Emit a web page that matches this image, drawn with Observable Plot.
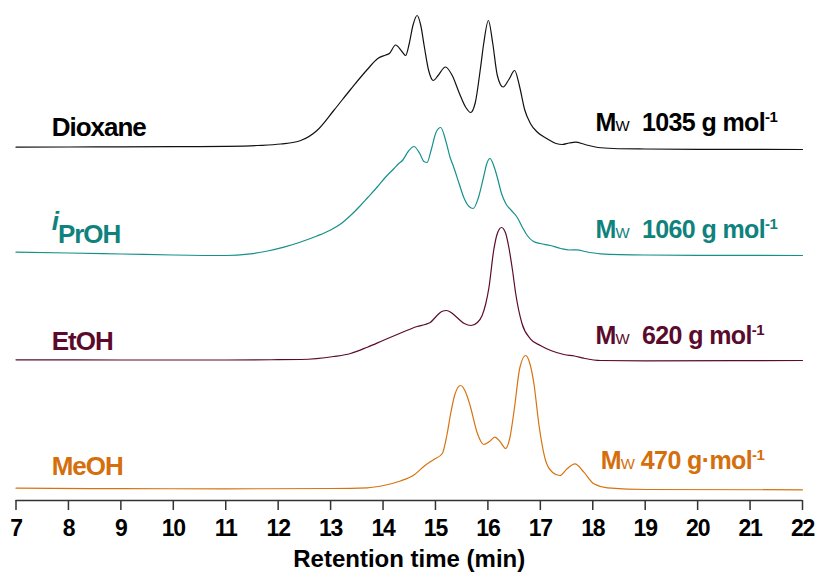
<!DOCTYPE html>
<html>
<head>
<meta charset="utf-8">
<script src="https://cdn.jsdelivr.net/npm/d3@7"></script>
<script src="https://cdn.jsdelivr.net/npm/@observablehq/plot@0.6"></script>
<style>
  html, body { margin: 0; padding: 0; background: #fff; }
  #chart svg { display: block; }
</style>
</head>
<body>
<div id="chart"></div>
<script>
// GPC traces measured in four solvents (retention time in min, detector signal in arbitrary units)
const solvents = ["Dioxane", "iPrOH", "EtOH", "MeOH"];
const molarMass = [1035, 1060, 620, 470];
const xTicks = [7, 8, 9, 10, 11, 12, 13, 14, 15, 16, 17, 18, 19, 20, 21, 22];

const dioxaneTime = [7.0, 8.0, 9.0, 10.0, 11.0, 11.6, 12.05, 12.43, 12.74, 13.06, 13.38, 13.70, 13.90, 14.05, 14.12, 14.24, 14.36, 14.43, 14.50, 14.57, 14.65, 14.72, 14.79, 14.87, 14.96, 15.05, 15.19, 15.32, 15.45, 15.58, 15.67, 15.76, 15.86, 15.92, 16.01, 16.09, 16.18, 16.29, 16.40, 16.51, 16.60, 16.70, 16.81, 16.95, 17.13, 17.30, 17.42, 17.55, 17.67, 17.85, 18.1, 18.4, 19.0, 20.0, 22.0];
const dioxaneSignal = [0.3, 0.5, 0.6, 0.8, 1.2, 2, 3.5, 7, 17, 37, 58, 78, 89, 92.5, 94, 102.5, 96, 92, 104, 122, 132, 122, 100, 77, 67, 72, 80.5, 72, 55, 40, 35, 45, 80, 104, 127, 105, 72, 60.5, 68, 77, 62, 38, 24, 15, 8.7, 4, 3, 4.5, 5.3, 3, 0, -1, -1.5, -1.8, -2];

const iproTime = [7.0, 8.0, 9.0, 10.0, 11.0, 11.47, 11.8, 12.11, 12.43, 12.74, 13.0, 13.19, 13.38, 13.57, 13.70, 13.89, 14.05, 14.21, 14.30, 14.37, 14.48, 14.59, 14.70, 14.78, 14.84, 14.92, 15.01, 15.10, 15.20, 15.28, 15.35, 15.45, 15.54, 15.64, 15.72, 15.82, 15.92, 15.98, 16.04, 16.11, 16.18, 16.26, 16.34, 16.45, 16.56, 16.66, 16.75, 16.87, 17.0, 17.19, 17.39, 17.55, 17.70, 17.85, 18.15, 19.0, 20.0, 22.0];
const iproSignal = [3.3, 2.5, 1.5, 0.5, 0, 1.7, 4.5, 8.3, 13.5, 19.5, 25.5, 31.5, 40, 50, 57.5, 68.5, 78.5, 87, 92, 95, 104, 109, 102, 94, 93, 106, 123, 128, 114, 98, 88, 72, 58, 49, 47, 58, 79, 92, 97, 90, 78, 62, 52, 45, 38, 28, 20, 14, 12, 10, 7, 5.5, 5.7, 4, 1.7, 0.5, 0.2, 0];

const etohTime = [7.0, 9.0, 11.0, 12.0, 12.43, 13.06, 13.38, 13.70, 14.0, 14.27, 14.50, 14.65, 14.80, 14.90, 15.03, 15.12, 15.21, 15.31, 15.41, 15.55, 15.68, 15.80, 15.89, 15.96, 16.02, 16.11, 16.18, 16.26, 16.34, 16.40, 16.47, 16.53, 16.65, 16.81, 17.0, 17.2, 17.45, 17.65, 17.83, 18.15, 19.0, 22.0];
const etohSignal = [0.7, 0.5, 0.5, 0.8, 1, 4, 7, 13.3, 20, 26, 31, 34, 36, 38, 45, 49, 50, 47.5, 43, 37, 35, 38, 45, 57, 73, 110, 127, 133, 127, 113, 90, 67, 37, 21.7, 15, 10, 6, 4.5, 2.3, 0, -0.3, 0];

const meohTime = [7.0, 9.0, 11.0, 13.0, 13.70, 14.01, 14.33, 14.59, 14.80, 14.97, 15.13, 15.22, 15.29, 15.37, 15.48, 15.57, 15.66, 15.80, 15.92, 16.03, 16.13, 16.23, 16.34, 16.42, 16.50, 16.61, 16.72, 16.80, 16.88, 16.97, 17.10, 17.23, 17.37, 17.51, 17.66, 17.83, 18.02, 18.28, 19.04, 22.0];
const meohSignal = [1.3, 0.8, 0.7, 1, 1.7, 4, 8.5, 14.5, 24, 30, 36, 55, 76, 95, 104, 98, 84, 56, 45, 48, 52.3, 48, 41, 52, 79, 122, 134, 126, 105, 66, 29, 17.3, 14, 20.7, 25.7, 17.3, 5.7, 1.7, 0, -0.3];

// Drawing style and stacking
const colors = ["#111111", "#16908b", "#5b0b2e", "#d7730f"];
const textColors = ["#000000", "#0f827d", "#5a0a2d", "#d46f0c"];
const offsets = [353, 245, 140, 11];
const times = [dioxaneTime, iproTime, etohTime, meohTime];
const signals = [dioxaneSignal, iproSignal, etohSignal, meohSignal];

const rows = solvents.flatMap((s, i) =>
  times[i].map((t, j) => ({solvent: s, t, y: offsets[i] + signals[i][j]}))
);

// Label anchors (relative to each trace's baseline)
const nameRise = [12, 13, 11, 15];
const massRise = [17, 18, 17, 21];
const massX = [18.05, 18.05, 18.05, 18.15];
const nameLabels = solvents.map((s, i) => ({text: s, x: 7.68, y: offsets[i] + nameRise[i], c: textColors[i]}));
const massLabels = solvents.map((s, i) => ({
  text: i === 3 ? `Mw ${molarMass[i]} g·mol-1` : `Mw  ${molarMass[i]} g mol-1`,
  x: massX[i], y: offsets[i] + massRise[i], c: textColors[i]
}));

const font = "'Liberation Sans', Arial, Helvetica, sans-serif";

const chart = Plot.plot({
  width: 819,
  height: 577,
  marginLeft: 15.5,
  marginRight: 17,
  marginTop: 0,
  marginBottom: 77,
  style: {fontFamily: font, background: "#fff", color: "#000"},
  x: {domain: [7, 22], axis: null},
  y: {domain: [0, 500], axis: null},
  color: {domain: solvents, range: colors},
  marks: [
    Plot.line(rows, {x: "t", y: "y", z: "solvent", stroke: "solvent", strokeWidth: 1.2, curve: "monotone-x"}),
    Plot.ruleY([0], {stroke: "#333", strokeWidth: 1.6}),
    Plot.axisX({
      ticks: xTicks, tickSize: 10, tickPadding: 9, tickFormat: d => String(d),
      fontSize: 23, fontWeight: "bold", stroke: "#333", strokeWidth: 1.5, label: null, color: "#000"
    }),
    Plot.text(nameLabels, {x: "x", y: "y", text: "text", fill: d => d.c, textAnchor: "start", lineAnchor: "bottom", fontSize: 26, fontWeight: "bold"}),
    Plot.text(massLabels, {x: "x", y: "y", text: "text", fill: d => d.c, textAnchor: "start", lineAnchor: "bottom", fontSize: 25, fontWeight: "bold"}),
    Plot.text(["Retention time (min)"], {frameAnchor: "bottom", dy: 66, lineAnchor: "bottom", fontSize: 24, fontWeight: "bold", fill: "#000"})
  ]
});

const svg = d3.select(chart);

// Tighter spacing on the bold labels
svg.selectAll('g[aria-label="x-axis tick label"] text').style("letter-spacing", "-1.2px");

svg.selectAll("text").each(function () {
  const el = d3.select(this);
  const s = el.text();
  if (s === "iPrOH") {
    el.text("");
    el.append("tspan").text("i").attr("font-style", "italic").attr("dy", -13);
    el.append("tspan").text("PrOH").attr("dy", 13);
    el.style("letter-spacing", "-1px");
  } else if (solvents.includes(s)) {
    el.style("letter-spacing", "-1px");
  } else {
    const m = s.match(/^M(w)(\s+)(.*)-1$/);
    if (m) {
      el.text("");
      el.style("white-space", "pre").style("letter-spacing", "-0.6px");
      el.append("tspan").text("M");
      el.append("tspan").text("W").attr("font-size", 15).attr("font-weight", "normal");
      el.append("tspan").text(m[2] + m[3]);
      el.append("tspan").text("-1").attr("font-size", 15).attr("dy", -9);
    }
  }
});

document.getElementById("chart").appendChild(chart);
</script>
</body>
</html>
